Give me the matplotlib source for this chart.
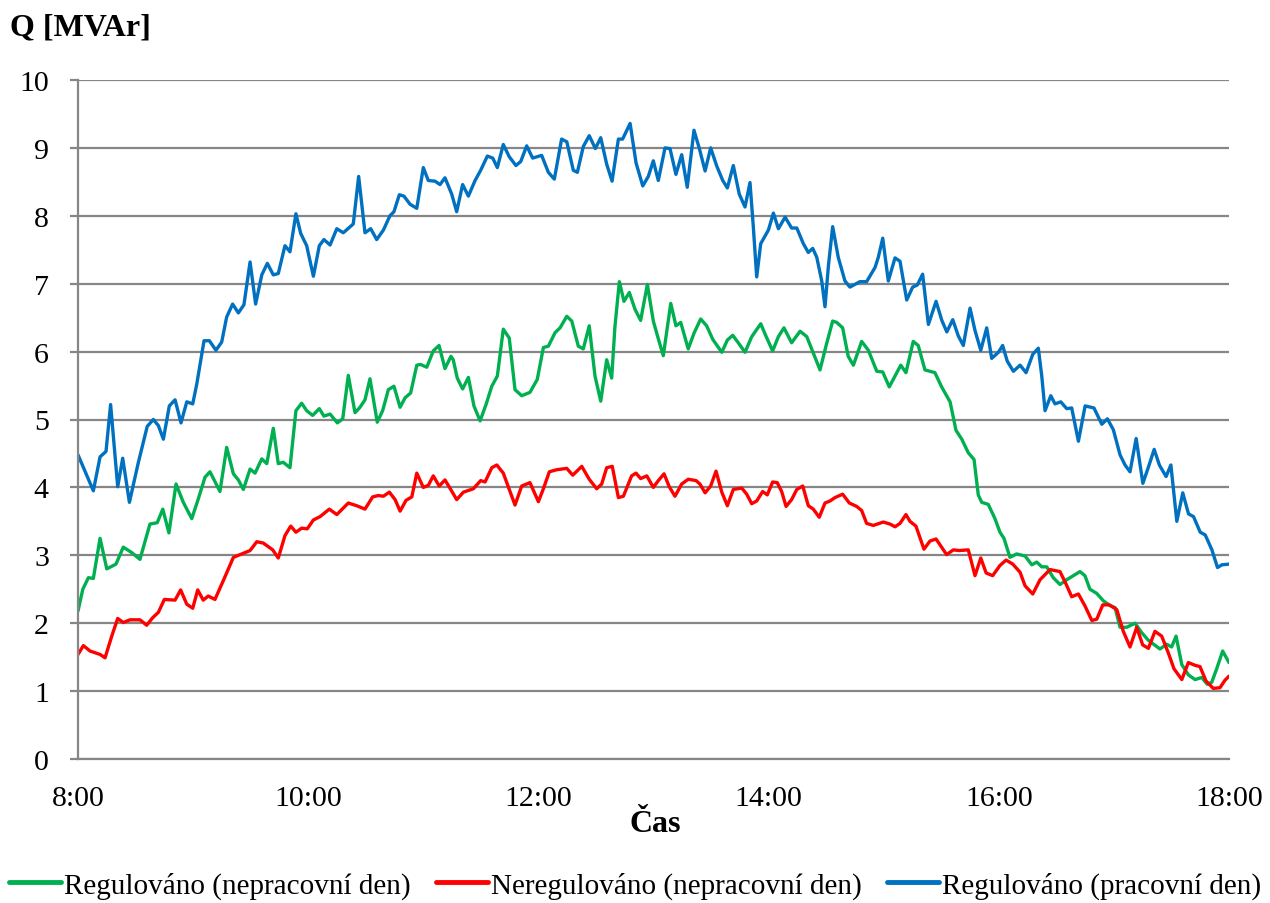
import matplotlib
matplotlib.use('Agg')
import matplotlib.pyplot as plt
import numpy as np

plt.rcParams['font.family'] = ['Liberation Serif', 'DejaVu Serif']

# casy v minutach od 8:00, hodnoty Q v MVAr
green_t = [0, 2.5, 5.4, 8.0, 11.5, 15.0, 19.8, 23.6, 28.0, 32.3, 37.5, 41.3, 44.2, 47.4, 51.1, 54.9,
           59.3, 62.7, 66.2, 68.8, 74.0, 77.5, 81.0, 83.6, 86.2, 89.7, 92.3, 95.8, 98.4, 101.8, 104.4,
           107.0, 110.5, 113.6, 116.6, 119.2, 122.3, 125.8, 128.2, 131.4, 135.2, 138.0, 140.9, 144.4,
           147.0, 149.6, 152.2, 156.0, 158.8, 161.8, 164.7, 167.9, 170.5, 173.4, 176.6, 178.6, 181.8,
           185.2, 188.2, 191.3, 194.4, 195.6, 197.7, 200.5, 203.5, 206.4, 209.6, 212.7, 215.7, 218.6,
           221.7, 224.8, 227.8, 231.3, 235.6, 239.4, 242.6, 245.2, 248.7, 251.3, 254.8, 257.4, 260.8,
           263.4, 266.5, 269.5, 272.5, 275.6, 278.2, 279.9, 282.2, 284.6, 287.4, 290.4, 293.3, 296.8,
           299.9, 302.5, 305.1, 309.0, 311.7, 314.2, 318.1, 321.1, 324.6, 327.7, 330.9, 335.6, 338.5,
           341.3, 344.2, 347.7, 351.2, 355.9, 358.6, 362.1, 365.1, 368.0, 372.0, 376.4, 379.9, 383.3,
           386.8, 389.9, 393.4, 395.5, 398.6, 401.5, 404.2, 408.5, 412.0, 416.4, 419.5, 422.9, 425.9,
           428.9, 431.6, 435.4, 438.0, 441.5, 446.7, 450.2, 454.6, 457.7, 460.7, 464.1, 467.1, 469.3,
           471.1, 474.5, 478.0, 480.6, 482.7, 485.8, 489.3, 493.7, 497.2, 499.8, 502.4, 505.0, 508.4,
           511.9, 515.4, 518.8, 522.3, 524.9, 527.5, 531.0, 534.5, 538.0, 540.6, 543.2, 546.7, 551.0,
           554.5, 557.9, 564.0, 567.5, 570.1, 572.4, 575.4, 578.8, 582.3, 585.8, 588.7, 591.0, 593.6,
           596.7, 600]
green_q = [2.18, 2.50, 2.67, 2.66, 3.25, 2.80, 2.87, 3.12, 3.04, 2.94, 3.46, 3.48, 3.68, 3.33, 4.05, 3.78,
           3.54, 3.83, 4.15, 4.23, 3.94, 4.59, 4.20, 4.11, 3.97, 4.27, 4.21, 4.42, 4.35, 4.87, 4.35,
           4.37, 4.29, 5.13, 5.24, 5.13, 5.06, 5.16, 5.05, 5.08, 4.95, 5.01, 5.65, 5.10,
           5.18, 5.29, 5.60, 4.96, 5.13, 5.44, 5.49, 5.18, 5.32, 5.39, 5.80, 5.81, 5.77,
           6.01, 6.09, 5.75, 5.93, 5.88, 5.61, 5.45, 5.62, 5.20, 4.98, 5.22, 5.49, 5.64,
           6.33, 6.20, 5.44, 5.35, 5.40, 5.59, 6.06, 6.08, 6.28, 6.35, 6.52, 6.45, 6.08,
           6.04, 6.38, 5.64, 5.27, 5.88, 5.61, 6.37, 7.03, 6.74, 6.87, 6.62, 6.46, 6.99,
           6.45, 6.19, 5.94, 6.71, 6.38, 6.43, 6.04, 6.27, 6.48, 6.38, 6.18, 5.99, 6.17,
           6.24, 6.13, 5.99, 6.22, 6.41, 6.23, 6.01, 6.22, 6.35, 6.13, 6.30, 6.22, 5.98,
           5.73, 6.08, 6.45, 6.43, 6.35, 5.93, 5.80, 6.15, 6.02, 5.71, 5.70, 5.48, 5.64,
           5.80, 5.69, 6.15, 6.09, 5.73, 5.69, 5.48, 5.26, 4.84, 4.71, 4.51, 4.41, 3.89,
           3.78, 3.75, 3.54, 3.34, 3.25, 2.97, 3.02, 2.99, 2.86, 2.90, 2.83, 2.83, 2.67,
           2.57, 2.64, 2.70, 2.76, 2.70, 2.50, 2.44, 2.33, 2.26, 2.23, 1.94, 1.94, 2.00,
           1.86, 1.75, 1.62, 1.69, 1.65, 1.81, 1.39, 1.24, 1.17, 1.20, 1.10, 1.13, 1.33,
           1.59, 1.42]

red_t = [0, 2.8, 6.3, 11.5, 14.1, 17.6, 20.7, 23.6, 27.1, 32.3, 35.8, 38.9, 41.9, 45.0, 50.6, 53.5,
         56.7, 59.8, 62.4, 65.3, 67.9, 71.4, 76.1, 81.0, 89.7, 93.2, 96.6, 101.5, 104.4, 107.9, 110.9,
         113.6, 116.6, 119.5, 122.7, 126.2, 131.0, 134.9, 140.9, 145.3, 149.6, 153.6, 156.5, 159.2,
         162.3, 165.3, 167.9, 171.0, 174.0, 176.6, 180.0, 182.6, 185.2, 188.3, 191.3, 194.3, 197.4,
         200.9, 206.1, 209.9, 212.2, 215.7, 218.3, 221.7, 224.8, 227.8, 231.3, 235.6, 240.0, 242.6,
         245.7, 249.5, 254.8, 257.9, 262.6, 266.5, 270.4, 273.0, 275.6, 278.5, 281.7, 284.3, 288.6,
         290.9, 293.3, 296.5, 299.9, 302.5, 305.5, 308.2, 311.2, 314.7, 318.1, 322.2, 324.2, 326.9,
         329.8, 332.6, 335.6, 338.5, 341.6, 346.0, 348.6, 351.2, 353.8, 356.9, 359.3, 362.1, 364.5,
         366.8, 369.1, 372.0, 374.7, 377.8, 380.7, 383.3, 386.4, 389.4, 392.0, 394.6, 398.6, 402.1,
         405.9, 408.5, 411.1, 414.6, 419.8, 423.3, 425.9, 428.5, 431.6, 433.7, 436.8, 441.0, 444.1,
         447.3, 452.8, 456.3, 459.4, 464.1, 467.6, 470.6, 473.4, 476.8, 480.6, 483.8, 487.3, 491.1,
         493.7, 497.7, 501.5, 506.7, 511.9, 515.0, 518.0, 521.5, 525.0, 528.5, 531.1, 534.2, 537.6,
         541.5, 544.9, 548.4, 551.9, 555.0, 558.0, 561.4, 564.9, 568.4, 571.3, 575.4, 578.8, 582.3,
         584.9, 588.0, 591.8, 595.3, 597.9, 600]
red_q = [1.54, 1.67, 1.59, 1.54, 1.49, 1.81, 2.07, 2.01, 2.05, 2.05, 1.97, 2.08, 2.16, 2.35, 2.34, 2.49,
         2.28, 2.22, 2.49, 2.34, 2.40, 2.35, 2.65, 2.97, 3.07, 3.20, 3.18, 3.08, 2.96, 3.29, 3.43,
         3.34, 3.40, 3.39, 3.52, 3.57, 3.68, 3.60, 3.77, 3.73, 3.68, 3.86, 3.88, 3.87,
         3.93, 3.82, 3.65, 3.81, 3.86, 4.21, 4.00, 4.03, 4.17, 4.02, 4.11, 3.97, 3.82,
         3.93, 3.98, 4.10, 4.08, 4.29, 4.33, 4.21, 3.97, 3.74, 4.02, 4.07, 3.79, 3.98,
         4.23, 4.26, 4.28, 4.18, 4.31, 4.12, 3.98, 4.05, 4.29, 4.31, 3.85, 3.87, 4.17,
         4.21, 4.13, 4.17, 4.00, 4.10, 4.20, 4.01, 3.87, 4.05, 4.12, 4.10, 4.05, 3.92,
         4.02, 4.24, 3.93, 3.73, 3.97, 3.99, 3.90, 3.76, 3.80, 3.94, 3.89, 4.08, 4.07,
         3.94, 3.72, 3.82, 3.97, 4.02, 3.73, 3.68, 3.56, 3.77, 3.80, 3.85, 3.90, 3.77,
         3.72, 3.66, 3.47, 3.44, 3.49, 3.46, 3.42, 3.47, 3.60, 3.50, 3.43, 3.09, 3.21,
         3.24, 3.01, 3.08, 3.07, 3.08, 2.70, 2.96, 2.74, 2.70, 2.85, 2.93, 2.87, 2.75,
         2.55, 2.43, 2.64, 2.79, 2.76, 2.58, 2.39, 2.43, 2.25, 2.04, 2.06, 2.27, 2.27,
         2.20, 1.88, 1.65, 1.94, 1.68, 1.63, 1.88, 1.81, 1.56, 1.33, 1.17, 1.42, 1.38,
         1.36, 1.15, 1.04, 1.05, 1.16, 1.22]

blue_t = [0, 8.0, 11.5, 14.6, 17.0, 20.7, 23.3, 26.8, 31.4, 36.1, 39.3, 41.9, 44.5, 47.6, 50.6, 53.7,
          56.7, 59.8, 61.9, 65.7, 68.5, 71.9, 74.9, 77.5, 80.6, 83.6, 86.5, 89.7, 92.6, 95.8, 98.7,
          101.8, 104.4, 107.9, 110.5, 113.6, 116.1, 119.2, 122.7, 125.8, 128.2, 131.4, 134.9, 138.3,
          143.5, 146.3, 149.6, 152.6, 155.7, 159.2, 162.6, 164.7, 167.5, 169.9, 173.1, 176.6, 180.0,
          182.6, 186.1, 188.7, 191.3, 194.8, 197.4, 200.5, 203.5, 207.0, 209.9, 213.4, 216.2, 218.6,
          221.7, 224.8, 228.3, 230.8, 233.9, 237.0, 241.7, 245.2, 248.3, 252.1, 254.8, 258.2, 260.3,
          263.4, 266.5, 269.7, 272.5, 275.6, 278.4, 281.7, 283.9, 287.8, 290.9, 294.4, 297.3, 299.9,
          302.5, 306.0, 308.6, 311.7, 314.7, 317.6, 321.1, 323.9, 326.9, 329.8, 333.0, 336.1, 338.5,
          341.6, 344.7, 347.7, 350.3, 352.0, 353.8, 355.9, 359.9, 362.5, 365.1, 368.6, 372.0, 374.7,
          378.1, 380.7, 383.0, 385.1, 387.7, 389.4, 391.2, 393.4, 396.3, 399.8, 402.4, 407.6, 411.1,
          415.5, 417.2, 419.5, 422.4, 425.9, 428.5, 432.0, 435.1, 437.5, 440.3, 443.3, 447.3, 450.3,
          452.9, 456.0, 458.9, 461.5, 465.0, 467.6, 470.6, 473.7, 476.3, 479.8, 482.0, 484.4, 487.6,
          491.1, 494.2, 497.7, 500.6, 502.4, 504.1, 507.1, 509.3, 512.3, 515.4, 518.0, 521.5, 525.0,
          529.6, 533.7, 536.6, 539.7, 543.2, 545.8, 548.4, 551.6, 555.1, 558.0, 561.0, 563.7, 567.2,
          569.7, 572.8, 575.9, 578.9, 581.5, 585.0, 587.6, 591.1, 594.0, 596.3, 600]
blue_q = [4.48, 3.95, 4.45, 4.53, 5.22, 4.01, 4.43, 3.78, 4.36, 4.90, 5.00, 4.91, 4.71, 5.20, 5.29, 4.95,
          5.26, 5.23, 5.52, 6.16, 6.16, 6.02, 6.14, 6.51, 6.70, 6.57, 6.69, 7.32, 6.70, 7.13, 7.30,
          7.13, 7.15, 7.56, 7.47, 8.03, 7.74, 7.56, 7.11, 7.56, 7.65, 7.57, 7.81, 7.75,
          7.88, 8.58, 7.75, 7.81, 7.65, 7.79, 8.00, 8.06, 8.31, 8.29, 8.17, 8.11, 8.71,
          8.52, 8.51, 8.46, 8.56, 8.32, 8.06, 8.46, 8.29, 8.52, 8.67, 8.88, 8.85, 8.71,
          9.05, 8.87, 8.74, 8.80, 9.03, 8.85, 8.89, 8.64, 8.54, 9.13, 9.09, 8.67, 8.64,
          9.02, 9.18, 8.99, 9.15, 8.76, 8.51, 9.13, 9.13, 9.36, 8.78, 8.44, 8.58, 8.81,
          8.52, 9.00, 8.99, 8.61, 8.90, 8.42, 9.26, 8.99, 8.66, 9.00, 8.73, 8.52, 8.41,
          8.74, 8.32, 8.13, 8.49, 7.85, 7.10, 7.59, 7.79, 8.04, 7.81, 7.98, 7.82, 7.82,
          7.59, 7.46, 7.52, 7.39, 7.04, 6.66, 7.27, 7.84, 7.39, 7.04, 6.95, 7.03, 7.03,
          7.24, 7.39, 7.67, 7.04, 7.38, 7.33, 6.76, 6.95, 6.98, 7.14, 6.40, 6.74, 6.46,
          6.29, 6.47, 6.23, 6.09, 6.64, 6.31, 6.02, 6.35, 5.90, 5.99, 6.09, 5.86, 5.71,
          5.80, 5.69, 5.96, 6.05, 5.64, 5.13, 5.35, 5.23, 5.26, 5.16, 5.17, 4.68, 5.20,
          5.17, 4.93, 5.01, 4.85, 4.48, 4.33, 4.23, 4.72, 4.06, 4.30, 4.56, 4.33, 4.16,
          4.33, 3.50, 3.92, 3.61, 3.57, 3.34, 3.30, 3.08, 2.82, 2.86, 2.87]

labels = ['Regulováno (nepracovní den)', 'Neregulováno (nepracovní den)', 'Regulováno (pracovní den)']
colors = ['#00B050', '#FF0000', '#0070C0']
xticks = [0, 120, 240, 360, 480, 600]
xticklabels = ['8:00', '10:00', '12:00', '14:00', '16:00', '18:00']

fig = plt.figure(figsize=(12.7, 9.04), dpi=100)
ax = fig.add_axes([78/1270, 1-760/904, (1229-78)/1270, (760-81)/904])

series = [(green_t, green_q), (red_t, red_q), (blue_t, blue_q)]
for (t, q), lab, c in zip(series, labels, colors):
    ax.plot(t, q, color=c, lw=2.4, label=lab, solid_joinstyle='round', solid_capstyle='round')

ax.set_xlim(0, 600)
ax.set_ylim(0, 10)
ax.set_yticks(np.arange(0, 11, 1))
ax.set_xticks(xticks)
ax.set_xticklabels(xticklabels)
ax.grid(axis='y', color='#868686', lw=1.6)
ax.set_axisbelow(True)
for s in ['top', 'right']:
    ax.spines[s].set_visible(False)
for s in ['left', 'bottom']:
    ax.spines[s].set_color('#868686')
    ax.spines[s].set_linewidth(1.6)
ax.tick_params(axis='y', length=6, width=1.6, color='#868686', pad=15, labelsize=21.5)
ax.tick_params(axis='x', length=0, pad=19, labelsize=21.5)

fig.text(10/1270, 1-28/904, 'Q [MVAr]', fontsize=23, fontweight='bold', va='center', ha='left')
fig.text(655/1270, 1-825/904, 'Čas', fontsize=23, fontweight='bold', va='center', ha='center')

leg = fig.legend(loc='center', bbox_to_anchor=(0.5, 1-886/904), ncol=3, frameon=False,
                 fontsize=21, handlelength=1.8, handletextpad=0.1, columnspacing=0.85, borderaxespad=0)
for h in leg.get_lines():
    h.set_linewidth(3.5)

fig.savefig('out.png', dpi=100)
